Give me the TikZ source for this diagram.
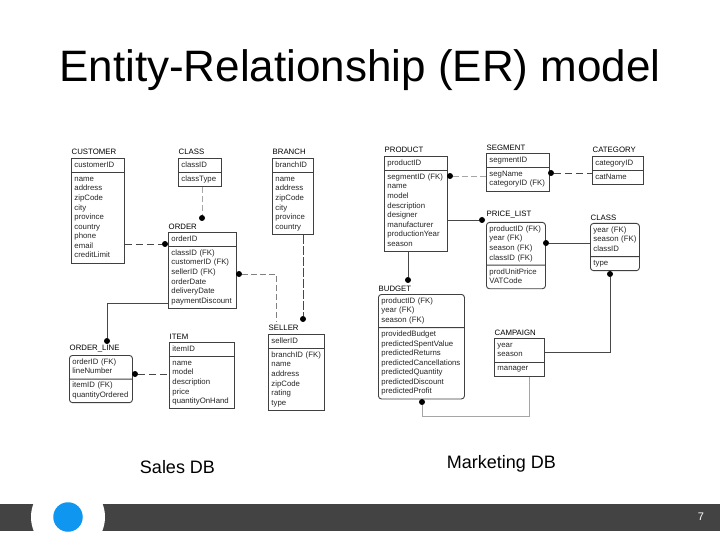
\documentclass[tikz,border=0pt]{standalone}
\usepackage{fontspec}
\setmainfont{Liberation Sans}
\usetikzlibrary{positioning,calc,shapes.multipart}
\definecolor{logoblue}{RGB}{14,150,240}
\definecolor{barcolor}{RGB}{67,67,67}

\begin{document}
\begin{tikzpicture}[
  x=1pt,y=-1pt,
  font=\fontsize{7.8}{9.55}\selectfont,
  entity/.style={rectangle split,rectangle split parts=2,draw=black!75,line width=0.9pt,
                 inner xsep=3pt,inner ysep=1.8pt,text=black!85,align=left,anchor=north west,
                 text width=#1},
  weak/.style={entity=#1,rounded corners=3pt},
  etitle/.style={inner sep=0.5pt,text=black},
  dot/.style={circle,fill=black,inner sep=0pt,minimum size=6pt},
  rel/.style={line width=0.8pt,black!72},
  reldash/.style={rel,dash pattern=on 7pt off 4pt},
  relpale/.style={line width=0.7pt,black!35,dash pattern=on 6pt off 3pt},
  slide/.style={font=\fontsize{18}{20}\selectfont,inner sep=0pt}
]
\useasboundingbox[fill=white] (0,0) rectangle (720,540);
% title and labels
\node[font=\fontsize{44}{48}\selectfont,inner sep=0pt] (heading) at (360,70) {Entity-Relationship (ER) model};
\node[slide] (salesdb) at (177.5,467) {Sales DB};
\node[slide] (marketingdb) at (501.5,464) {Marketing DB};
% footer
\fill[barcolor] (0,504) rectangle (720,531);
\node[circle,fill=white,minimum size=74pt,inner sep=0pt] (logoback) at (68,517) {};
\node[circle,fill=logoblue,minimum size=29.5pt,inner sep=0pt] (logo) at (68,517) {};
\node[text=white,font=\fontsize{11}{12}\selectfont,inner sep=0pt] (pagenum) at (701,517) {7};
% sales db
\node[entity=47pt] (customer) at (71,158) {\strut customerID\nodepart{two}\strut name\\address\\zipCode\\city\\province\\country\\phone\\email\\creditLimit\strut};
\node[entity=37pt] (class) at (178,158) {\strut classID\nodepart{two}\strut classType\strut};
\node[entity=35pt] (branch) at (272,158) {\strut branchID\nodepart{two}\strut name\\address\\zipCode\\city\\province\\country\strut};
\node[entity=62pt] (order) at (168,232) {\strut orderID\nodepart{two}\strut classID (FK)\\customerID (FK)\\sellerID (FK)\\orderDate\\deliveryDate\\paymentDiscount\strut};
\node[weak=57pt] (orderline) at (69,355) {\strut orderID (FK)\\lineNumber\strut\nodepart{two}\strut itemID (FK)\\quantityOrdered\strut};
\node[entity=59pt] (item) at (169,342) {\strut itemID\nodepart{two}\strut name\\model\\description\\price\\quantityOnHand\strut};
\node[entity=50pt] (seller) at (268,334) {\strut sellerID\nodepart{two}\strut branchID (FK)\\name\\address\\zipCode\\rating\\type\strut};
% marketing db
\node[entity=57pt] (product) at (384,156) {\strut productID\nodepart{two}\strut segmentID (FK)\\name\\model\\description\\designer\\manufacturer\\productionYear\\season\strut};
\node[entity=57pt] (segment) at (486,153) {\strut segmentID\nodepart{two}\strut segName\\categoryID (FK)\strut};
\node[entity=45pt] (category) at (592,156) {\strut categoryID\nodepart{two}\strut catName\strut};
\node[weak=53pt] (pricelist) at (486,222) {\strut productID (FK)\\year (FK)\\season (FK)\\classID (FK)\strut\nodepart{two}\strut prodUnitPrice\\VATCode\strut};
\node[weak=43pt] (classb) at (590,223) {\strut year (FK)\\season (FK)\\classID\strut\nodepart{two}\strut type\strut};
\node[weak=80pt] (budget) at (378,294) {\strut productID (FK)\\year (FK)\\season (FK)\strut\nodepart{two}\strut providedBudget\\predictedSpentValue\\predictedReturns\\predictedCancellations\\predictedQuantity\\predictedDiscount\\predictedProfit\strut};
\node[entity=44pt] (campaign) at (494,338) {\strut year\\season\strut\nodepart{two}\strut manager\strut};
% entity names
\node[etitle,above right=2.5pt and 0pt of customer.north west] (customername) {CUSTOMER};
\node[etitle,above right=2.5pt and 0pt of class.north west] (classname) {CLASS};
\node[etitle,above right=2.5pt and 0pt of branch.north west] (branchname) {BRANCH};
\node[etitle,above right=1.5pt and 0pt of order.north west] (ordername) {ORDER};
\node[etitle,above right=2.5pt and 0pt of orderline.north west] (orderlinename) {ORDER\_LINE};
\node[etitle,above right=1.5pt and 0pt of item.north west] (itemname) {ITEM};
\node[etitle,above right=2.5pt and 0pt of seller.north west] (sellername) {SELLER};
\node[etitle,above right=2.5pt and 0pt of product.north west] (productname) {PRODUCT};
\node[etitle,above right=1.5pt and 0pt of segment.north west] (segmentname) {SEGMENT};
\node[etitle,above right=3pt and 0pt of category.north west] (categoryname) {CATEGORY};
\node[etitle,above right=3pt and 0pt of pricelist.north west] (pricelistname) {PRICE\_LIST};
\node[etitle,above right=1.5pt and 0pt of classb.north west] (classbname) {CLASS};
\node[etitle,above right=1.5pt and 0pt of budget.north west] (budgetname) {BUDGET};
\node[etitle,above right=1.5pt and 0pt of campaign.north west] (campaignname) {CAMPAIGN};
% foreign key dots
\node[dot] (d1) at (202,218) {};
\node[dot] (d2) at (165,244) {};
\node[dot] (d3) at (239,274) {};
\node[dot] (d4) at (303,319) {};
\node[dot] (d5) at (107,341) {};
\node[dot] (d6) at (135,374) {};
\node[dot] (d7) at (450,176) {};
\node[dot] (d8) at (551,173) {};
\node[dot] (d9) at (482,220) {};
\node[dot] (d10) at (408,280) {};
\node[dot] (d11) at (546,243) {};
\node[dot] (d12) at (610,274) {};
\node[dot] (d13) at (422,402) {};
\coordinate (sellerend) at (276,322);
\coordinate (orderbend) at (107,303);
\coordinate (campaignbend) at (610,352);
\coordinate (budgetbend) at (529,416);
% connectors
\draw[relpale] (d1 |- class.south) -- (d1);
\draw[reldash] (customer.east |- d2) -- (d2);
\draw[relpale,black!50] (d3) -| (sellerend);
\draw[reldash,dash pattern=on 9pt off 2pt,line width=0.6pt] (d4 |- branch.south) -- (d4);
\draw[rel] (order.west |- orderbend) -- (orderbend) -- (d5);
\draw[reldash] (d6) -- (item.west |- d6);
\draw[relpale] (d7) -- (segment.west |- d7);
\draw[reldash] (d8) -- (category.west |- d8);
\draw[rel] (product.east |- d9) -- (d9);
\draw[rel] (d10 |- product.south) -- (d10);
\draw[rel] (d11) -- (classb.west |- d11);
\draw[rel] (d12) -- (campaignbend) -- (campaign.east |- campaignbend);
\draw[line width=0.7pt,black!35] (d13) |- (budgetbend) -- (budgetbend |- campaign.south);
\end{tikzpicture}
\end{document}
